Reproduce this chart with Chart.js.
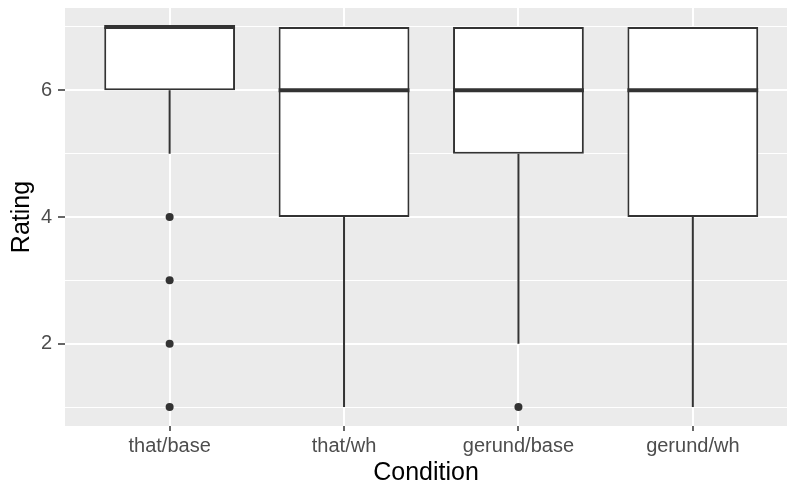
<!DOCTYPE html>
<html lang="en">
<head>
    <meta charset="UTF-8">
    <title>Rating by Condition</title>
    <script src="https://cdn.jsdelivr.net/npm/chart.js"></script>
    <style>
        body {
            margin: 0;
            background: #ffffff;
        }
        #wrap {
            width: 787px;
            height: 489px;
            position: relative;
        }
    </style>
</head>
<body>
    <div id="wrap"><canvas id="boxChart"></canvas></div>

    <script>
        // box statistics
        const categories = ['that/base', 'that/wh', 'gerund/base', 'gerund/wh'];
        const lowerWhisker = [5, 1, 2, 1];
        const q1 = [6, 4, 5, 4];
        const median = [7, 6, 6, 6];
        const q3 = [7, 7, 7, 7];
        const upperWhisker = [7, 7, 7, 7];
        const outliers = [[4, 3, 2, 1], [], [1], []];
        const yGrid = [1, 2, 3, 4, 5, 6, 7];
        const yLabels = [2, 4, 6];

        const boxWidth = 0.75;
        const ink = '#333333';
        const fontFamily = '"Liberation Sans", Arial, sans-serif';

        const boxData = categories.map((c, i) => ({ x: i, y: [q1[i], q3[i]] }));

        // whiskers: one segment below the box, one above, null breaks the line
        const whiskerData = [];
        categories.forEach((c, i) => {
            whiskerData.push({ x: i, y: lowerWhisker[i] }, { x: i, y: q1[i] }, { x: i, y: null });
            whiskerData.push({ x: i, y: q3[i] }, { x: i, y: upperWhisker[i] }, { x: i, y: null });
        });

        const medianData = [];
        categories.forEach((c, i) => {
            medianData.push({ x: i - boxWidth / 2, y: median[i] }, { x: i + boxWidth / 2, y: median[i] }, { x: i, y: null });
        });

        const outlierData = [];
        outliers.forEach((list, i) => {
            list.forEach(v => outlierData.push({ x: i, y: v }));
        });

        // grey panel like ggplot
        const panelBg = {
            id: 'panelBg',
            beforeDraw(chart) {
                const a = chart.chartArea;
                const c = chart.ctx;
                c.save();
                c.fillStyle = '#EBEBEB';
                c.fillRect(a.left, a.top, a.right - a.left, a.bottom - a.top);
                c.restore();
            }
        };

        new Chart(document.getElementById('boxChart'), {
            type: 'bar',
            data: {
                datasets: [
                    {
                        type: 'scatter',
                        data: outlierData,
                        backgroundColor: ink,
                        borderColor: ink,
                        pointRadius: 4,
                        borderWidth: 0,
                        order: 0
                    },
                    {
                        type: 'line',
                        data: medianData,
                        borderColor: ink,
                        borderWidth: 4,
                        borderCapStyle: 'butt',
                        pointRadius: 0,
                        spanGaps: false,
                        order: 1
                    },
                    {
                        type: 'bar',
                        data: boxData,
                        backgroundColor: '#ffffff',
                        borderColor: ink,
                        borderWidth: 2,
                        borderSkipped: false,
                        barPercentage: boxWidth,
                        categoryPercentage: 1,
                        order: 2
                    },
                    {
                        type: 'line',
                        data: whiskerData,
                        borderColor: ink,
                        borderWidth: 2,
                        pointRadius: 0,
                        spanGaps: false,
                        order: 3
                    }
                ]
            },
            options: {
                responsive: true,
                maintainAspectRatio: false,
                animation: false,
                events: [],
                layout: { autoPadding: false, padding: { top: 8, right: 0, left: 0, bottom: 0 } },
                plugins: {
                    legend: { display: false },
                    tooltip: { enabled: false }
                },
                scales: {
                    x: {
                        type: 'linear',
                        min: -0.6,
                        max: 3.54,
                        offset: false,
                        afterBuildTicks: s => { s.ticks = categories.map((c, i) => ({ value: i })); },
                        afterFit: s => {
                            s.height = 63;
                            s.paddingLeft = 0;
                            s.paddingRight = 0;
                        },
                        grid: {
                            offset: false,
                            color: '#ffffff',
                            lineWidth: 2,
                            tickColor: ink,
                            tickWidth: 1.5,
                            tickLength: 5
                        },
                        border: { display: false },
                        ticks: {
                            autoSkip: false,
                            maxRotation: 0,
                            padding: 3,
                            color: '#4D4D4D',
                            font: { family: fontFamily, size: 20 },
                            callback: v => categories[v]
                        },
                        title: {
                            display: true,
                            text: 'Condition',
                            color: '#000000',
                            font: { family: fontFamily, size: 25 },
                            padding: { top: 0, bottom: 1 }
                        }
                    },
                    y: {
                        type: 'linear',
                        min: 0.7,
                        max: 7.3,
                        afterBuildTicks: s => { s.ticks = yGrid.map(v => ({ value: v })); },
                        afterFit: s => {
                            s.width = 65;
                            s.paddingTop = 0;
                            s.paddingBottom = 0;
                        },
                        grid: {
                            color: '#ffffff',
                            lineWidth: ctx => (yLabels.includes(ctx.tick.value) ? 2 : 1),
                            tickColor: ctx => (yLabels.includes(ctx.tick.value) ? ink : 'rgba(0,0,0,0)'),
                            tickWidth: 1.5,
                            tickLength: 7
                        },
                        border: { display: false },
                        ticks: {
                            padding: 6,
                            color: '#4D4D4D',
                            font: { family: fontFamily, size: 20 },
                            callback: v => (yLabels.includes(v) ? String(v) : '')
                        },
                        title: {
                            display: true,
                            text: 'Rating',
                            color: '#000000',
                            font: { family: fontFamily, size: 25 },
                            padding: { top: 7, bottom: 0 }
                        }
                    }
                }
            },
            plugins: [panelBg]
        });
    </script>
</body>
</html>
